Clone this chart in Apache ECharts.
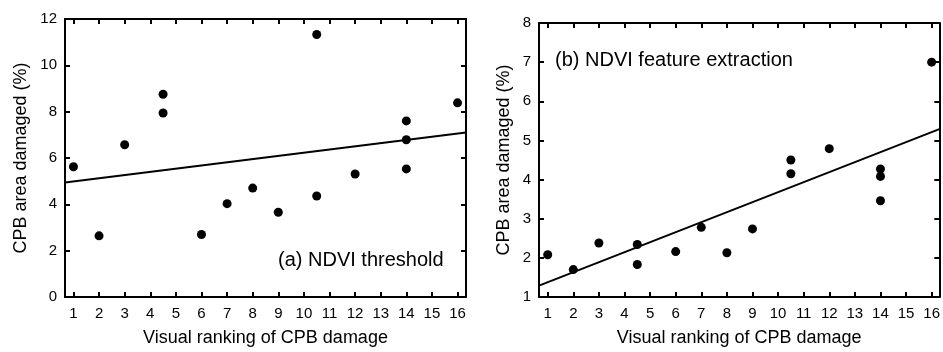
<!DOCTYPE html>
<html>
<head>
<meta charset="utf-8">
<script src="https://cdn.jsdelivr.net/npm/echarts@6/dist/echarts.min.js"></script>
<style>
html,body{margin:0;padding:0;background:#fff;}
#c{width:943px;height:352px;}
</style>
</head>
<body>
<div id="c"></div>
<script>
// Panel (a) NDVI threshold
const xA = [1, 2, 3, 4.5, 4.5, 6, 7, 8, 9, 10.5, 10.5, 12, 14, 14, 14, 16];
const yA = [5.62, 2.64, 6.57, 8.75, 7.94, 2.70, 4.03, 4.70, 3.66, 11.33, 4.36, 5.31, 7.60, 6.79, 5.53, 8.38];
const fitA = [[0.67, 4.94], [16.33, 7.10]];
// Panel (b) NDVI feature extraction
const xB = [1, 2, 3, 4.5, 4.5, 6, 7, 8, 9, 10.5, 10.5, 12, 14, 14, 14, 16];
const yB = [2.08, 1.70, 2.38, 2.34, 1.83, 2.16, 2.78, 2.13, 2.74, 4.50, 4.15, 4.79, 4.27, 4.08, 3.46, 7.00];
const fitB = [[0.66, 1.29], [16.3, 5.29]];
// Tick labels
const xTicks = [1, 2, 3, 4, 5, 6, 7, 8, 9, 10, 11, 12, 13, 14, 15, 16];
const yTicksA = [0, 2, 4, 6, 8, 10, 12];
const yTicksB = [1, 2, 3, 4, 5, 6, 7, 8];
const xName = 'Visual ranking of CPB damage';
const yName = 'CPB area damaged (%)';
const labelA = '(a) NDVI threshold';
const labelB = '(b) NDVI feature extraction';

const FONT = '"Liberation Sans", Arial, Helvetica, sans-serif';
const BLACK = '#000';

function pts(xs, ys) { return xs.map((x, i) => [x, ys[i]]); }

const lineStyle = { color: BLACK, width: 2, opacity: 1 };
const tickStyle = { show: true, inside: true, length: 5, lineStyle: { color: BLACK, width: 2, opacity: 1 } };

function xAxisDef(grid, min, max, pos, showLabels, name, gap) {
  return {
    type: 'value', gridIndex: grid, position: pos, min: min, max: max,
    splitLine: { show: false },
    axisLine: { show: true, onZero: false, lineStyle: lineStyle },
    axisTick: Object.assign({}, tickStyle, { customValues: xTicks }),
    axisLabel: { show: showLabels, customValues: xTicks, color: BLACK, fontSize: 15, fontFamily: FONT, margin: 9 },
    name: name || '', nameLocation: 'middle', nameGap: gap || 0,
    nameTextStyle: { color: BLACK, fontSize: 18, fontFamily: FONT }
  };
}
function yAxisDef(grid, min, max, interval, pos, showLabels, name, gap) {
  return {
    type: 'value', gridIndex: grid, position: pos, min: min, max: max, interval: interval,
    splitLine: { show: false },
    axisLine: { show: true, onZero: false, lineStyle: lineStyle },
    axisTick: tickStyle,
    axisLabel: { show: showLabels, color: BLACK, fontSize: 15, fontFamily: FONT, margin: 8 },
    name: name || '', nameLocation: 'middle', nameGap: gap || 0, nameRotate: 90,
    nameTextStyle: { color: BLACK, fontSize: 18, fontFamily: FONT }
  };
}

const chart = echarts.init(document.getElementById('c'), null, { renderer: 'canvas' });
chart.setOption({
  backgroundColor: '#fff',
  animation: false,
  grid: [
    { left: 65, top: 19, width: 401, height: 282 },
    { left: 539, top: 23, width: 402, height: 279 }
  ],
  xAxis: [
    xAxisDef(0, fitA[0][0], fitA[1][0], 'bottom', true, xName, 32),
    xAxisDef(0, fitA[0][0], fitA[1][0], 'top', false),
    xAxisDef(1, fitB[0][0], fitB[1][0], 'bottom', true, xName, 32),
    xAxisDef(1, fitB[0][0], fitB[1][0], 'top', false)
  ],
  yAxis: [
    yAxisDef(0, yTicksA[0], yTicksA[yTicksA.length - 1], 2, 'left', true, yName, 35),
    yAxisDef(0, yTicksA[0], yTicksA[yTicksA.length - 1], 2, 'right', false),
    yAxisDef(1, yTicksB[0], yTicksB[yTicksB.length - 1], 1, 'left', true, yName, 26),
    yAxisDef(1, yTicksB[0], yTicksB[yTicksB.length - 1], 1, 'right', false)
  ],
  series: [
    { type: 'line', xAxisIndex: 0, yAxisIndex: 0, data: fitA, showSymbol: false, symbol: 'none',
      lineStyle: { color: BLACK, width: 2, opacity: 1 }, z: 2 },
    { type: 'scatter', xAxisIndex: 0, yAxisIndex: 0, data: pts(xA, yA), symbol: 'circle', symbolSize: 9,
      itemStyle: { color: BLACK, opacity: 1 }, z: 3 },
    { type: 'line', xAxisIndex: 2, yAxisIndex: 2, data: fitB, showSymbol: false, symbol: 'none',
      lineStyle: { color: BLACK, width: 2, opacity: 1 }, z: 2 },
    { type: 'scatter', xAxisIndex: 2, yAxisIndex: 2, data: pts(xB, yB), symbol: 'circle', symbolSize: 9,
      itemStyle: { color: BLACK, opacity: 1 }, z: 3 }
  ],
  graphic: [
    { type: 'text', left: 278, top: 250, style: { text: labelA, fill: BLACK, fontSize: 20, fontFamily: FONT } },
    { type: 'text', left: 555, top: 50, style: { text: labelB, fill: BLACK, fontSize: 20, fontFamily: FONT } }
  ]
});
</script>
</body>
</html>
